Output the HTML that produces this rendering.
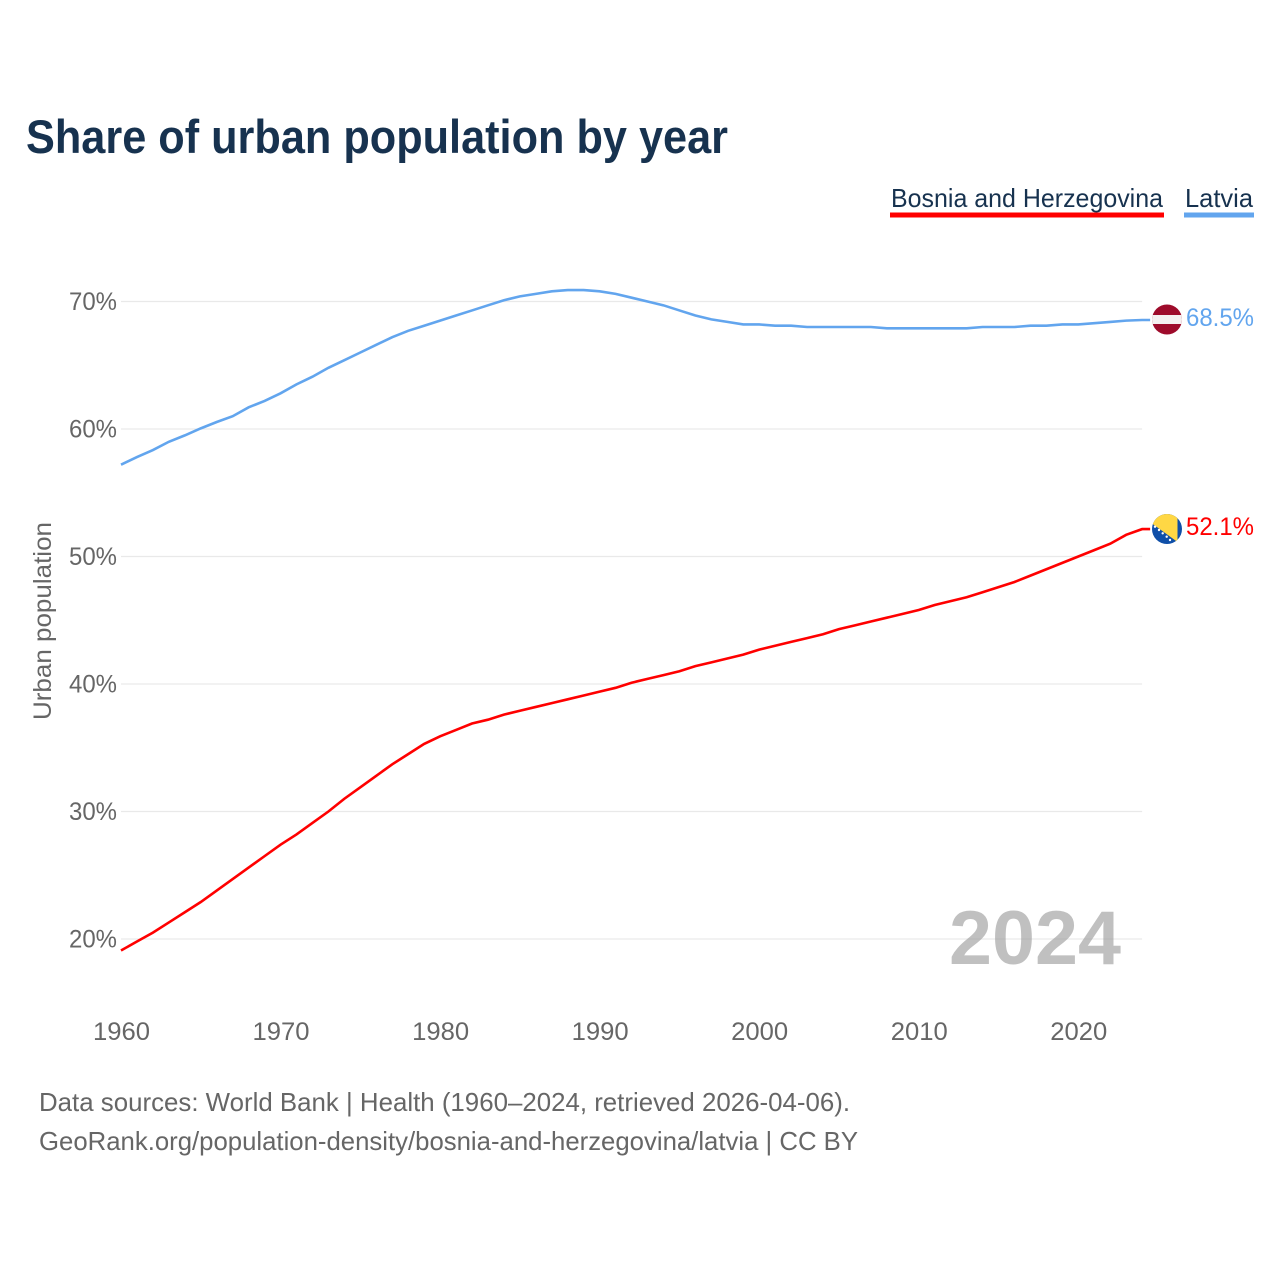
<!DOCTYPE html>
<html lang="en">
<head>
<meta charset="utf-8">
<title>Share of urban population by year</title>
<style>
html,body{margin:0;padding:0;background:#fff;}
svg{display:block;font-family:"Liberation Sans",sans-serif;}
</style>
</head>
<body>
<svg id="chart" width="1280" height="1280" viewBox="0 0 1280 1280" xmlns="http://www.w3.org/2000/svg">
  <defs>
    <clipPath id="clip-lv"><circle cx="1167" cy="319.5" r="15"/></clipPath>
    <clipPath id="clip-ba"><circle cx="1167" cy="529" r="15"/></clipPath>
  </defs>
  <rect width="1280" height="1280" fill="#fff"/>
  <text x="26" y="153" font-size="47" font-weight="700" fill="#17324f" textLength="702" lengthAdjust="spacingAndGlyphs">Share of urban population by year</text>

  <g>
    <text x="891" y="207" font-size="26" fill="#17324f" textLength="272" lengthAdjust="spacingAndGlyphs">Bosnia and Herzegovina</text>
    <rect x="890" y="212.5" width="274" height="5" fill="#ff0000"/>
  </g>
  <g>
    <text x="1185" y="207" font-size="26" fill="#17324f" textLength="68" lengthAdjust="spacingAndGlyphs">Latvia</text>
    <rect x="1184" y="212.5" width="70" height="5" fill="#62a5ee"/>
  </g>

  <text transform="translate(51,720) rotate(-90)" font-size="25" fill="#666" textLength="198" lengthAdjust="spacingAndGlyphs">Urban population</text>

  <g id="grid"></g>
  <g id="yticks"></g>
  <g id="xticks"></g>

  <text id="year-label" x="1121" y="964" text-anchor="end" font-size="76" font-weight="700" fill="#9a9a9a" fill-opacity="0.62" textLength="172" lengthAdjust="spacingAndGlyphs">2024</text>

  <g id="series"></g>

  <g clip-path="url(#clip-lv)">
    <rect x="1150" y="303" width="34" height="33" fill="#9e0b2b"/>
    <rect x="1150" y="315" width="34" height="9" fill="#f4f0f0"/>
  </g>
  <g clip-path="url(#clip-ba)">
    <rect x="1150" y="512" width="34" height="34" fill="#0f4fa8"/>
    <polygon points="1150,522 1150,512 1177.5,512 1177.5,542" fill="#ffd744"/>
    <g fill="#fff">
      <circle cx="1155" cy="526.700" r="1.2"/>
      <circle cx="1159" cy="530" r="1.2"/>
      <circle cx="1162.700" cy="533.300" r="1.2"/>
      <circle cx="1166.700" cy="536.700" r="1.2"/>
      <circle cx="1170" cy="540" r="1.2"/>
    </g>
  </g>

  <text x="39" y="1111" font-size="26" fill="#666" textLength="811" lengthAdjust="spacingAndGlyphs">Data sources: World Bank | Health (1960–2024, retrieved 2026-04-06).</text>
  <text x="39" y="1150" font-size="26" fill="#666" textLength="819" lengthAdjust="spacingAndGlyphs">GeoRank.org/population-density/bosnia-and-herzegovina/latvia | CC BY</text>
</svg>
<script>
const years = [1960,1961,1962,1963,1964,1965,1966,1967,1968,1969,1970,1971,1972,1973,1974,1975,1976,1977,1978,1979,1980,1981,1982,1983,1984,1985,1986,1987,1988,1989,1990,1991,1992,1993,1994,1995,1996,1997,1998,1999,2000,2001,2002,2003,2004,2005,2006,2007,2008,2009,2010,2011,2012,2013,2014,2015,2016,2017,2018,2019,2020,2021,2022,2023,2024];
const latvia = [57.2,57.8,58.35,59.0,59.5,60.05,60.55,61.0,61.7,62.2,62.8,63.5,64.1,64.8,65.4,66.0,66.6,67.2,67.7,68.1,68.5,68.9,69.3,69.7,70.1,70.4,70.6,70.8,70.9,70.9,70.8,70.6,70.3,70.0,69.7,69.3,68.9,68.6,68.4,68.2,68.2,68.1,68.1,68.0,68.0,68.0,68.0,68.0,67.9,67.9,67.9,67.9,67.9,67.9,68.0,68.0,68.0,68.1,68.1,68.2,68.2,68.3,68.4,68.5,68.55];
const bosnia = [19.1,19.8,20.5,21.3,22.1,22.9,23.8,24.7,25.6,26.5,27.4,28.2,29.1,30.0,31.0,31.9,32.8,33.7,34.5,35.3,35.9,36.4,36.9,37.2,37.6,37.9,38.2,38.5,38.8,39.1,39.4,39.7,40.1,40.4,40.7,41.0,41.4,41.7,42.0,42.3,42.7,43.0,43.3,43.6,43.9,44.3,44.6,44.9,45.2,45.5,45.8,46.2,46.5,46.8,47.2,47.6,48.0,48.5,49.0,49.5,50.0,50.5,51.0,51.7,52.15];
const yTicks = [20,30,40,50,60,70];
const xTicks = [1960,1970,1980,1990,2000,2010,2020];
const latviaEndLabel = "68.5%";
const bosniaEndLabel = "52.1%";

const NS = "http://www.w3.org/2000/svg";
function xScale(year){ return 121 + (year - 1960) * 15.955; }
function yScale(pct){ return 939 - (pct - 20) * 12.75; }

const grid = document.getElementById("grid");
const yTickGroup = document.getElementById("yticks");
const xTickGroup = document.getElementById("xticks");
const seriesGroup = document.getElementById("series");
const svg = document.getElementById("chart");

yTicks.forEach(function(t){
  const line = document.createElementNS(NS, "line");
  
  
  line.setAttribute("x1", 121);
  line.setAttribute("x2", xScale(2024));
  line.setAttribute("y1", yScale(t));
  line.setAttribute("y2", yScale(t));
  line.setAttribute("stroke", "#e9e9e9");
  line.setAttribute("stroke-width", "1.2");
  grid.appendChild(line);

  const label = document.createElementNS(NS, "text");
  
  
  label.setAttribute("x", 117);
  label.setAttribute("y", yScale(t) + 8.5);
  label.setAttribute("text-anchor", "end");
  label.setAttribute("font-size", "25");
  label.setAttribute("fill", "#666");
  label.setAttribute("textLength", "48");
  label.setAttribute("lengthAdjust", "spacingAndGlyphs");
  label.textContent = t + "%";
  yTickGroup.appendChild(label);
});

xTicks.forEach(function(t){
  const label = document.createElementNS(NS, "text");
  
  
  label.setAttribute("x", xScale(t) + 0.5);
  label.setAttribute("y", 1040);
  label.setAttribute("text-anchor", "middle");
  label.setAttribute("font-size", "25");
  label.setAttribute("fill", "#666");
  label.setAttribute("textLength", "57");
  label.setAttribute("lengthAdjust", "spacingAndGlyphs");
  label.textContent = t;
  xTickGroup.appendChild(label);
});

function linePath(values){
  let d = values.map(function(v, i){
    return (i ? "L" : "M") + xScale(years[i]).toFixed(2) + " " + yScale(v).toFixed(2);
  }).join(" ");
  d += " L" + (xScale(years[years.length - 1]) + 8).toFixed(2) + " " + yScale(values[values.length - 1]).toFixed(2);
  return d;
}

const latviaLine = document.createElementNS(NS, "path");


latviaLine.setAttribute("d", linePath(latvia));
latviaLine.setAttribute("fill", "none");
latviaLine.setAttribute("stroke", "#62a5ee");
latviaLine.setAttribute("stroke-width", "2.6");
seriesGroup.appendChild(latviaLine);

const bosniaLine = document.createElementNS(NS, "path");


bosniaLine.setAttribute("d", linePath(bosnia));
bosniaLine.setAttribute("fill", "none");
bosniaLine.setAttribute("stroke", "#ff0000");
bosniaLine.setAttribute("stroke-width", "2.6");
seriesGroup.appendChild(bosniaLine);

const latviaValue = document.createElementNS(NS, "text");


latviaValue.setAttribute("x", 1186);
latviaValue.setAttribute("y", 326);
latviaValue.setAttribute("font-size", "25");
latviaValue.setAttribute("fill", "#62a5ee");
latviaValue.setAttribute("textLength", "68");
latviaValue.setAttribute("lengthAdjust", "spacingAndGlyphs");
latviaValue.textContent = latviaEndLabel;
svg.appendChild(latviaValue);

const bosniaValue = document.createElementNS(NS, "text");


bosniaValue.setAttribute("x", 1186);
bosniaValue.setAttribute("y", 535);
bosniaValue.setAttribute("font-size", "25");
bosniaValue.setAttribute("fill", "#ff0000");
bosniaValue.setAttribute("textLength", "68");
bosniaValue.setAttribute("lengthAdjust", "spacingAndGlyphs");
bosniaValue.textContent = bosniaEndLabel;
svg.appendChild(bosniaValue);
</script>
</body>
</html>
